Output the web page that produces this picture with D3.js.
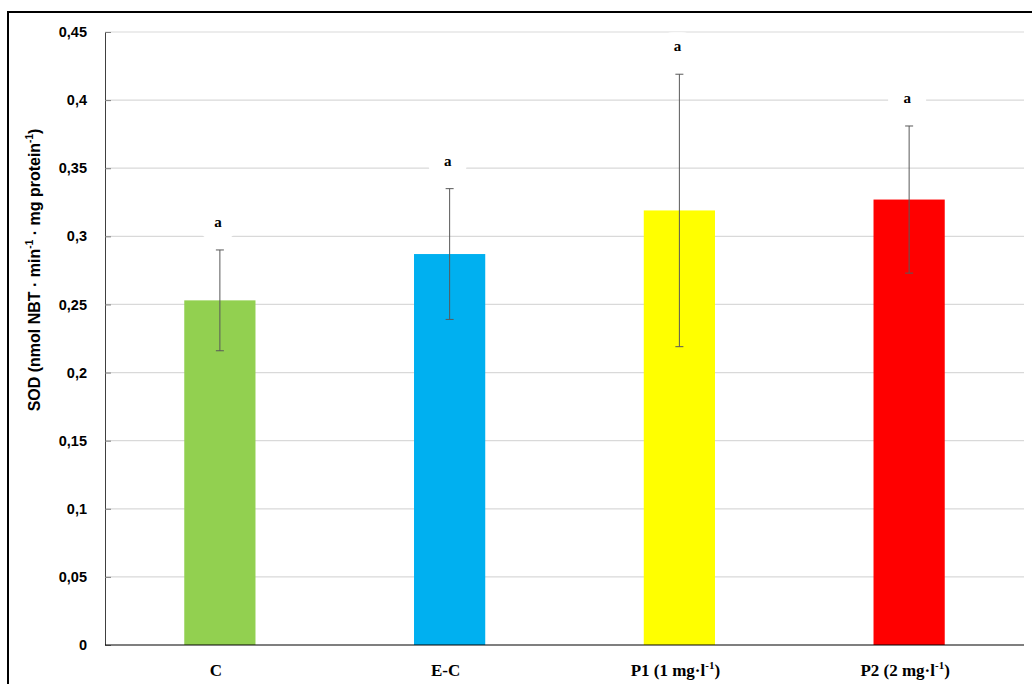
<!DOCTYPE html>
<html>
<head>
<meta charset="utf-8">
<script src="https://cdn.jsdelivr.net/npm/d3@7"></script>
<style>
  body { margin: 0; background: #fff; }
</style>
</head>
<body>
<script>
//chart data
var categories = ["C", "E-C", "P1", "P2"];
var means = [0.253, 0.287, 0.319, 0.327];
var errors = [0.037, 0.048, 0.100, 0.054];
var letters = ["a", "a", "a", "a"];
var barColors = ["#92d050", "#00b0f0", "#ffff00", "#ff0000"];
var yTicks = [0, 0.05, 0.1, 0.15, 0.2, 0.25, 0.3, 0.35, 0.4, 0.45];

window.onload = drawChart();

function drawChart(){
    var width = 1032,
        height = 684;

    var svg = d3.select("body")
        .append("svg")
        .attr("width", width)
        .attr("height", height);

    //outer frame
    svg.append("rect")
        .attr("x", 8).attr("y", 12)
        .attr("width", 1040).attr("height", 700)
        .attr("fill", "#fff")
        .attr("stroke", "#000")
        .attr("stroke-width", 2);

    var left = 105, right = 1024, top = 32, bottom = 645;

    var x = d3.scaleBand()
        .domain(categories)
        .range([left, right])
        .paddingInner(0.69)
        .paddingOuter(0.345);

    var y = d3.scaleLinear()
        .domain([0, 0.45])
        .range([bottom, top]);

    var fmt = function(d){ return String(d).replace(".", ","); };

    //gridlines
    svg.append("g")
        .selectAll("line")
        .data(yTicks.slice(1))
        .enter()
        .append("line")
        .attr("x1", left).attr("x2", right)
        .attr("y1", function(d){ return y(d); })
        .attr("y2", function(d){ return y(d); })
        .attr("stroke", "#d9d9d9")
        .attr("stroke-width", 1.2);

    //y axis
    var yAxis = svg.append("g")
        .attr("transform", "translate(" + left + ",0)")
        .call(d3.axisLeft(y).tickValues(yTicks).tickFormat(fmt)
            .tickSizeInner(-6).tickSizeOuter(0).tickPadding(18));
    yAxis.select(".domain").attr("stroke", "#404040");
    yAxis.selectAll(".tick line").attr("stroke", "#7f7f7f");
    yAxis.selectAll("text")
        .attr("font-family", "'Liberation Sans', Arial, sans-serif")
        .attr("font-weight", "bold")
        .attr("font-size", 14.5)
        .attr("fill", "#000");

    //bars
    svg.append("g")
        .selectAll("rect")
        .data(categories)
        .enter()
        .append("rect")
        .attr("x", function(d){ return x(d); })
        .attr("y", function(d, i){ return y(means[i]); })
        .attr("width", x.bandwidth())
        .attr("height", function(d, i){ return y(0) - y(means[i]); })
        .attr("fill", function(d, i){ return barColors[i]; });

    //x axis line
    svg.append("line")
        .attr("x1", left).attr("x2", right)
        .attr("y1", y(0)).attr("y2", y(0))
        .attr("stroke", "#000")
        .attr("stroke-width", 1.2);

    //error bars
    var eb = svg.append("g")
        .selectAll("g")
        .data(categories)
        .enter()
        .append("g")
        .attr("stroke", "#595959")
        .attr("stroke-width", 1);
    eb.append("line")
        .attr("x1", function(d){ return x(d) + x.bandwidth() / 2; })
        .attr("x2", function(d){ return x(d) + x.bandwidth() / 2; })
        .attr("y1", function(d, i){ return y(means[i] + errors[i]); })
        .attr("y2", function(d, i){ return y(means[i] - errors[i]); });
    [1, -1].forEach(function(s){
        eb.append("line")
            .attr("x1", function(d){ return x(d) + x.bandwidth() / 2 - 4; })
            .attr("x2", function(d){ return x(d) + x.bandwidth() / 2 + 4; })
            .attr("y1", function(d, i){ return y(means[i] + s * errors[i]); })
            .attr("y2", function(d, i){ return y(means[i] + s * errors[i]); });
    });

    //letter labels with white backing
    var lab = svg.append("g")
        .selectAll("g")
        .data(categories)
        .enter()
        .append("g")
        .attr("transform", function(d, i){
            return "translate(" + (x(d) + x.bandwidth() / 2 - 2) + "," + (y(means[i] + errors[i]) - 28) + ")";
        });
    lab.append("rect")
        .attr("x", -19).attr("y", -14)
        .attr("width", 38).attr("height", 32)
        .attr("rx", 14)
        .attr("fill", "#fff");
    lab.append("text")
        .attr("text-anchor", "middle")
        .attr("dy", "0.35em")
        .attr("font-family", "'Liberation Serif', 'Times New Roman', serif")
        .attr("font-weight", "bold")
        .attr("font-size", 15)
        .text(function(d, i){ return letters[i]; });

    //x category labels
    var xl = svg.append("g")
        .selectAll("text")
        .data(categories)
        .enter()
        .append("text")
        .attr("x", function(d){ return x(d) + x.bandwidth() / 2 - 4; })
        .attr("y", 676)
        .attr("text-anchor", "middle")
        .attr("font-family", "'Liberation Serif', 'Times New Roman', serif")
        .attr("font-weight", "bold")
        .attr("font-size", 17)
        .attr("fill", "#000");
    xl.each(function(d){
        var t = d3.select(this);
        if (d === "P1" || d === "P2") {
            var dose = d === "P1" ? "1" : "2";
            t.append("tspan").text(d + " (" + dose + " mg·l");
            t.append("tspan").attr("dy", -7).attr("font-size", 11).text("-1");
            t.append("tspan").attr("dy", 7).text(")");
        } else {
            t.text(d);
        }
    });

    //y axis title
    var title = svg.append("text")
        .attr("transform", "translate(40," + 270 + ") rotate(-90)")
        .attr("text-anchor", "middle")
        .attr("font-family", "'Liberation Sans', Arial, sans-serif")
        .attr("font-weight", "bold")
        .attr("font-size", 16)
        .attr("fill", "#000");
    title.append("tspan").text("SOD (nmol NBT · min");
    title.append("tspan").attr("dy", -7).attr("font-size", 10).text("-1");
    title.append("tspan").attr("dy", 7).text(" · mg protein");
    title.append("tspan").attr("dy", -7).attr("font-size", 10).text("-1");
    title.append("tspan").attr("dy", 7).text(")");
}
</script>
</body>
</html>
